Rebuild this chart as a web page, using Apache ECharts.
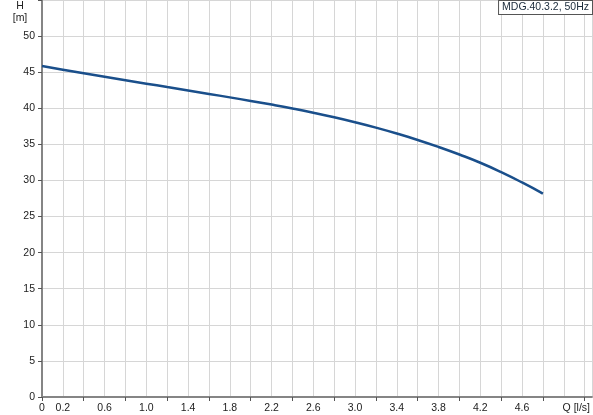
<!DOCTYPE html>
<html>
<head>
<meta charset="utf-8">
<script src="https://cdn.jsdelivr.net/npm/echarts@6/dist/echarts.min.js"></script>
<style>html,body{margin:0;padding:0;background:#fff}#c{width:593px;height:415px}</style>
</head>
<body>
<div id="c"></div>
<script>
var seriesName = 'MDG.40.3.2, 50Hz';
var flowQ = [0, 0.2, 0.4, 0.6, 0.8, 1.0, 1.2, 1.4, 1.6, 1.8, 2.0, 2.2, 2.4, 2.6, 2.8, 3.0, 3.2, 3.4, 3.6, 3.8, 4.0, 4.2, 4.4, 4.6, 4.8];
var headH = [45.85, 45.35, 44.85, 44.36, 43.88, 43.41, 42.94, 42.47, 41.99, 41.51, 41.02, 40.51, 39.97, 39.39, 38.76, 38.07, 37.32, 36.5, 35.61, 34.64, 33.59, 32.45, 31.15, 29.72, 28.18];
var xLabelValues = [0, 0.2, 0.6, 1.0, 1.4, 1.8, 2.2, 2.6, 3.0, 3.4, 3.8, 4.2, 4.6, 5.0];
var xTickValues = [0, 0.4, 0.8, 1.2, 1.6, 2.0, 2.4, 2.8, 3.2, 3.6, 4.0, 4.4, 4.8, 5.2];
var yLabelValues = [0, 5, 10, 15, 20, 25, 30, 35, 40, 45, 50];
var xUnitLabel = 'Q [l/s]';
var yUnitLabel = 'H\n[m]';

var data = flowQ.map(function (q, i) { return [q, headH[i]]; });
var chart = echarts.init(document.getElementById('c'), null, {renderer: 'canvas'});
var font = 'Arial, "Liberation Sans", sans-serif';
var xMax = 5.27;
chart.setOption({
  animation: false,
  backgroundColor: '#fff',
  grid: {left: 42, right: 0, top: 0, bottom: 18, containLabel: false},
  xAxis: [{
    type: 'value', position: 'bottom', min: 0, max: xMax, interval: 0.2,
    axisLine: {show: true, onZero: false, lineStyle: {color: '#858585', width: 2}},
    axisTick: {show: false},
    axisLabel: {
      customValues: xLabelValues, margin: 6, color: '#222', fontSize: 10.5, fontFamily: font,
      formatter: function (v) {
        if (Math.abs(v - 5.0) < 1e-6) return '{q|' + xUnitLabel + '}';
        if (v === 0) return '0';
        return v.toFixed(1);
      },
      rich: {q: {padding: [0, 0, 0, 25], fontSize: 10.5, fontFamily: font, color: '#222'}}
    },
    splitLine: {show: true, lineStyle: {color: '#d6d6d6', width: 1}}
  }, {
    type: 'value', position: 'bottom', min: 0, max: xMax, interval: 0.4,
    axisLine: {show: false, onZero: false},
    axisTick: {show: true, length: 4, customValues: xTickValues, lineStyle: {color: '#555'}},
    axisLabel: {show: false},
    splitLine: {show: false}
  }],
  yAxis: {
    type: 'value', min: 0, max: 55, interval: 5,
    axisLine: {show: true, onZero: false, lineStyle: {color: '#858585', width: 2}},
    axisTick: {show: true, length: 4, lineStyle: {color: '#555'}},
    axisLabel: {customValues: yLabelValues, margin: 7, color: '#222', fontSize: 10.5, fontFamily: font},
    splitLine: {show: true, lineStyle: {color: '#d6d6d6', width: 1}}
  },
  graphic: [
    {type: 'text', x: 20, y: 0, z: 10, style: {text: yUnitLabel, textAlign: 'center', textVerticalAlign: 'top', font: '10.5px ' + font, fill: '#222', lineHeight: 12}},
    {type: 'text', right: 0, top: 0, z: 10, style: {text: seriesName, font: '10.5px ' + font, fill: '#1a2a3a', backgroundColor: '#fff', borderColor: '#555', borderWidth: 1, padding: [1, 3, 1, 3]}}
  ],
  series: [{
    name: seriesName, type: 'line', xAxisIndex: 0, data: data, smooth: 0.5, showSymbol: false,
    lineStyle: {color: '#1a4f8b', width: 2.5}, clip: false
  }]
});
</script>
</body>
</html>
